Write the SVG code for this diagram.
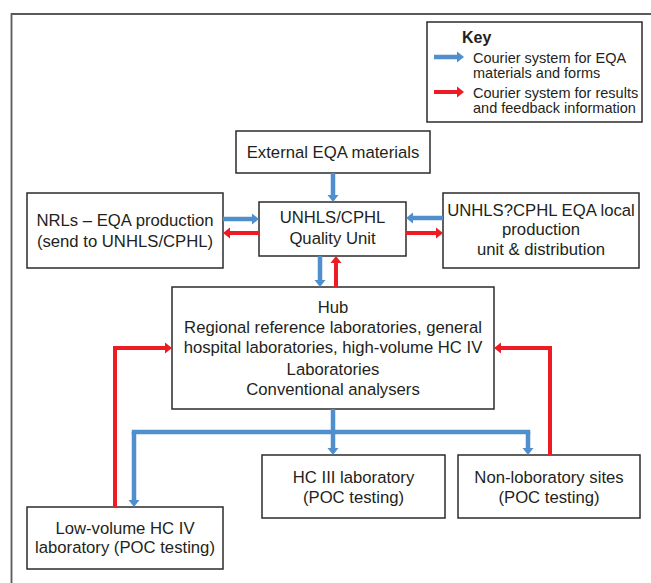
<svg xmlns="http://www.w3.org/2000/svg" width="651" height="583" viewBox="0 0 651 583">
<style>
.box{fill:#fff;stroke:#2b2b2b;stroke-width:1.5}
.t{font-family:"Liberation Sans",Arial,sans-serif;font-size:16.7px;fill:#231f20;text-anchor:middle}
.k{font-family:"Liberation Sans",Arial,sans-serif;font-size:14.5px;fill:#231f20}
.blue{fill:none;stroke:#4f8fcd;stroke-width:4.5}
.red{fill:none;stroke:#ed1c24;stroke-width:4}
.bm{marker-end:url(#bh)}
.rm{marker-end:url(#rh)}
</style>
<defs>
<marker id="bh" markerUnits="userSpaceOnUse" markerWidth="10" markerHeight="12" refX="0" refY="5.5" orient="auto" overflow="visible">
<path d="M0,0 L7,5.5 L0,11 z" fill="#4f8fcd"/>
</marker>
<marker id="rh" markerUnits="userSpaceOnUse" markerWidth="10" markerHeight="12" refX="0" refY="5.5" orient="auto" overflow="visible">
<path d="M0,0 L7,5.5 L0,11 z" fill="#ed1c24"/>
</marker>
</defs>
<rect width="651" height="583" fill="#fff"/>
<path d="M11.5,583 V14 H651" fill="none" stroke="#5a5a5a" stroke-width="1.8"/>

<g id="key">
<rect class="box" x="427" y="22" width="215" height="100"/>
<text class="k" x="462" y="43" style="font-weight:bold;font-size:16px">Key</text>
<path class="blue bm" d="M434,57 H457"/>
<text class="k" x="473" y="63">Courier system for EQA</text>
<text class="k" x="473" y="78">materials and forms</text>
<path class="red rm" d="M434,92 H457"/>
<text class="k" x="473" y="98">Courier system for results</text>
<text class="k" x="473" y="113">and feedback information</text>
</g>

<g id="external">
<rect class="box" x="236" y="131" width="194" height="42"/>
<text class="t" x="333" y="158">External EQA materials</text>
</g>

<g id="quality">
<rect class="box" x="259" y="202" width="147" height="54"/>
<text class="t" x="332.5" y="223">UNHLS/CPHL</text>
<text class="t" x="332.5" y="244">Quality Unit</text>
</g>

<g id="nrls">
<rect class="box" x="27" y="193" width="196" height="75"/>
<text class="t" x="125" y="226">NRLs – EQA production</text>
<text class="t" x="125" y="247">(send to UNHLS/CPHL)</text>
</g>

<g id="local">
<rect class="box" x="443" y="193" width="196" height="75"/>
<text class="t" x="541" y="216">UNHLS?CPHL EQA local</text>
<text class="t" x="541" y="235">production</text>
<text class="t" x="541" y="255">unit &amp; distribution</text>
</g>

<g id="hub">
<rect class="box" x="172" y="287" width="322" height="122"/>
<text class="t" x="333" y="313">Hub</text>
<text class="t" x="333" y="333">Regional reference laboratories, general</text>
<text class="t" x="333" y="353">hospital laboratories, high-volume HC IV</text>
<text class="t" x="333" y="375">Laboratories</text>
<text class="t" x="333" y="395">Conventional analysers</text>
</g>

<g id="lowvolume">
<rect class="box" x="27" y="507" width="196" height="62"/>
<text class="t" x="125" y="534">Low-volume HC IV</text>
<text class="t" x="125" y="553">laboratory (POC testing)</text>
</g>

<g id="hc3">
<rect class="box" x="262" y="455" width="183" height="63"/>
<text class="t" x="353.5" y="483">HC III laboratory</text>
<text class="t" x="353.5" y="503">(POC testing)</text>
</g>

<g id="nonlab">
<rect class="box" x="458" y="455" width="182" height="63"/>
<text class="t" x="549" y="483">Non-loboratory sites</text>
<text class="t" x="549" y="503">(POC testing)</text>
</g>

<g id="connectors">
<path class="blue bm" d="M333,173 V195"/>
<path class="blue bm" d="M223,219 H252"/>
<path class="red rm" d="M259,233 H230"/>
<path class="blue bm" d="M443,218 H413"/>
<path class="red rm" d="M406,233 H436"/>
<path class="blue bm" d="M320,256 V280"/>
<path class="red rm" d="M336,287 V263"/>
<path class="blue" d="M333,409 V432"/>
<path class="blue" d="M134,432 H528" stroke-linecap="square"/>
<path class="blue bm" d="M134,432 V500"/>
<path class="blue bm" d="M333,432 V448"/>
<path class="blue bm" d="M528,432 V448"/>
<path class="red rm" d="M115,507 V348 H165"/>
<path class="red rm" d="M550,455 V348 H501"/>
</g>
</svg>
